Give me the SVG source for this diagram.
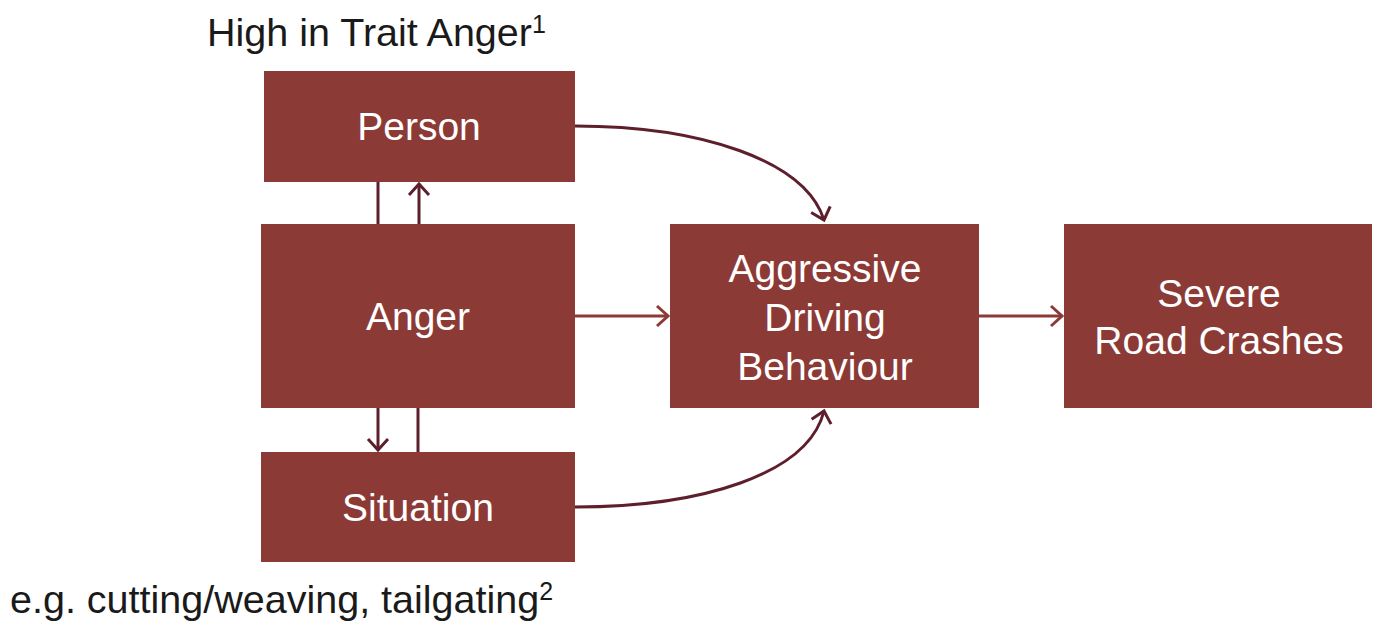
<svg xmlns="http://www.w3.org/2000/svg" width="1376" height="626" viewBox="0 0 1376 626">
<style>
.box{fill:#8C3A36;}
.lbl{font-family:"Liberation Sans",Arial,sans-serif;font-size:39px;fill:#ffffff;text-anchor:middle;}
.out{font-family:"Liberation Sans",Arial,sans-serif;font-size:39.5px;fill:#1a1a1a;}
.dk{stroke:#5E1F2C;stroke-width:3;fill:none;}
.lt{stroke:#8C3A36;stroke-width:3;fill:none;}
</style>
<defs>
<marker id="ad" markerUnits="userSpaceOnUse" markerWidth="20" markerHeight="24" refX="13" refY="12" orient="auto" viewBox="0 0 20 24">
<path d="M2,2 L13,12 L2,22" fill="none" stroke="#5E1F2C" stroke-width="3"/>
</marker>
<marker id="al" markerUnits="userSpaceOnUse" markerWidth="20" markerHeight="24" refX="13" refY="12" orient="auto" viewBox="0 0 20 24">
<path d="M2,2 L13,12 L2,22" fill="none" stroke="#8C3A36" stroke-width="3"/>
</marker>
</defs>
<g id="person"><rect class="box" x="264" y="71" width="311" height="111"/><text class="lbl" x="419" y="140">Person</text></g>
<g id="anger"><rect class="box" x="261" y="224" width="314" height="184"/><text class="lbl" x="418" y="330">Anger</text></g>
<g id="situation"><rect class="box" x="261" y="452" width="314" height="110"/><text class="lbl" x="418" y="521">Situation</text></g>
<g id="aggressive"><rect class="box" x="670" y="224" width="309" height="184"/><text class="lbl" x="825" y="282">Aggressive</text><text class="lbl" x="825" y="331">Driving</text><text class="lbl" x="825" y="380">Behaviour</text></g>
<g id="severe"><rect class="box" x="1064" y="224" width="308" height="184"/><text class="lbl" x="1219" y="307">Severe</text><text class="lbl" x="1219" y="354">Road Crashes</text></g>
<g id="trait"><text class="out" x="207" y="46">High in Trait Anger<tspan font-size="25" dy="-13">1</tspan></text></g>
<g id="example"><text class="out" x="10" y="613" font-size="41">e.g. cutting/weaving, tailgating<tspan font-size="25" dy="-13">2</tspan></text></g>
<g id="connectors">
<path class="dk" d="M575,126 C700,126 805,160 824,220" marker-end="url(#ad)"/>
<path class="dk" d="M575,507 C700,507 808,475 824,411" marker-end="url(#ad)"/>
<path class="lt" d="M575,316 L668,316" marker-end="url(#al)"/>
<path class="lt" d="M979,316 L1062,316" marker-end="url(#al)"/>
<path class="dk" d="M378,182 L378,224"/>
<path class="dk" d="M419,224 L419,184" marker-end="url(#ad)"/>
<path class="dk" d="M378,408 L378,450" marker-end="url(#ad)"/>
<path class="dk" d="M418,408 L418,452"/>
</g>
</svg>
